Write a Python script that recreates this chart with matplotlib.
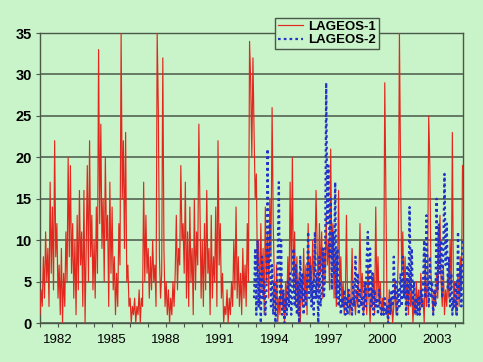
import numpy as np
import matplotlib
matplotlib.use("Agg")
import matplotlib.pyplot as plt

# ---------------- data ----------------
samples_per_year = 16
l1_start = 1981.0
lageos1 = [
    # 1981
    1, 4, 2, 8, 3, 11, 5, 9, 2, 17, 6, 14, 4, 22, 8, 12,
    # 1982
    3, 7, 1, 9, 0, 6, 2, 11, 5, 20, 8, 19, 6, 12, 3, 10,
    # 1983
    1, 13, 4, 16, 7, 11, 2, 16, 0, 9, 19, 5, 22, 8, 13, 4,
    # 1984
    10, 3, 14, 6, 33, 12, 24, 9, 15, 5, 20, 10, 13, 2, 17, 6,
    # 1985
    14, 4, 8, 1, 6, 2, 12, 7, 35, 15, 22, 9, 23, 5, 7, 2,
    # 1986
    3, 0, 2, 1, 3, 0, 2, 1, 4, 0, 3, 2, 17, 5, 13, 6,
    # 1987
    9, 3, 8, 4, 10, 5, 7, 2, 35, 26, 8, 3, 6, 32, 9, 2,
    # 1988
    5, 1, 4, 0, 3, 1, 5, 2, 6, 13, 4, 9, 7, 19, 10, 12,
    # 1989
    6, 17, 3, 11, 2, 14, 5, 9, 1, 15, 4, 11, 7, 24, 13, 3,
    # 1990
    10, 2, 12, 4, 16, 6, 9, 1, 13, 3, 8, 5, 14, 2, 22, 7,
    # 1991
    12, 3, 6, 0, 2, 1, 4, 0, 3, 1, 5, 2, 10, 4, 14, 3,
    # 1992
    8, 2, 6, 1, 9, 3, 7, 2, 12, 5, 34, 29, 20, 32, 23, 15,
    # 1993
    18, 6, 10, 2, 12, 4, 9, 1, 14, 5, 11, 3, 15, 8, 26, 12,
    # 1994
    5, 1, 7, 0, 3, 1, 6, 2, 4, 0, 5, 2, 8, 3, 17, 6,
    # 1995
    20, 4, 11, 2, 8, 1, 6, 0, 5, 2, 9, 3, 7, 1, 12, 4,
    # 1996
    8, 3, 10, 5, 7, 16, 9, 4, 12, 6, 11, 3, 9, 5, 13, 7,
    # 1997
    10, 4, 21, 8, 12, 3, 9, 2, 6, 16, 4, 8, 2, 5, 1, 3,
    # 1998
    13, 2, 4, 1, 3, 9, 2, 3, 1, 4, 2, 5, 12, 3, 6, 1,
    # 1999
    2, 5, 1, 7, 3, 0, 4, 2, 6, 1, 14, 3, 8, 2, 5, 1,
    # 2000
    3, 1, 29, 16, 2, 0, 4, 1, 3, 0, 2, 5, 1, 3, 8, 35,
    # 2001
    19, 6, 11, 3, 8, 2, 5, 1, 6, 2, 4, 0, 3, 1, 5, 2,
    # 2002
    4, 1, 6, 2, 3, 0, 8, 2, 5, 25, 19, 6, 3, 1, 4, 2,
    # 2003
    6, 3, 9, 13, 5, 2, 7, 1, 4, 2, 6, 3, 10, 4, 23, 2,
    # 2004
    5, 1, 3, 6, 2, 8, 4, 19,
]

l2_start = 1992.875
lageos2 = [
    # end of 1992
    3, 9,
    # 1993
    1, 10, 2, 6, 0, 8, 3, 5, 1, 4, 21, 6, 12, 2, 7, 1,
    # 1994
    5, 0, 3, 8, 17, 2, 10, 1, 4, 0, 3, 1, 5, 2, 6, 1,
    # 1995
    4, 9, 2, 7, 1, 5, 0, 8, 3, 6, 1, 4, 2, 5, 11, 3,
    # 1996
    7, 2, 5, 1, 11, 3, 6, 0, 8, 2, 4, 9, 3, 6, 29, 12,
    # 1997
    19, 8, 15, 4, 11, 6, 17, 3, 9, 2, 5, 1, 3, 2, 4, 1,
    # 1998
    3, 1, 4, 2, 3, 1, 5, 2, 8, 3, 6, 1, 4, 2, 3, 1,
    # 1999
    5, 2, 8, 11, 3, 9, 2, 6, 1, 4, 2, 3, 1, 4, 2, 1,
    # 2000
    2, 1, 3, 1, 2, 0, 3, 1, 4, 2, 8, 3, 5, 1, 4, 2,
    # 2001
    6, 2, 8, 3, 5, 1, 7, 2, 14, 4, 9, 2, 5, 1, 3, 1,
    # 2002
    3, 1, 4, 2, 5, 10, 3, 13, 6, 2, 8, 3, 5, 1, 4, 2,
    # 2003
    15, 4, 12, 6, 10, 3, 9, 18, 7, 12, 4, 8, 2, 6, 1, 3,
    # 2004
    2, 5, 1, 11, 3, 7, 2, 10,
]

series_names = ["LAGEOS-1", "LAGEOS-2"]
y_ticks = [0, 5, 10, 15, 20, 25, 30, 35]
x_tick_labels = [1982, 1985, 1988, 1991, 1994, 1997, 2000, 2003]
x_minor_years = list(range(1981, 2005))

# ---------------- drawing ----------------
t1 = l1_start + np.arange(len(lageos1)) / samples_per_year
t2 = l2_start + np.arange(len(lageos2)) / samples_per_year

bg = "#c9f3c9"
gridc = "#4a584a"

fig = plt.figure(figsize=(4.83, 3.62), dpi=100, facecolor=bg)
ax = fig.add_axes([0.0828, 0.1077, 0.876, 0.801])
ax.set_facecolor(bg)

ax.plot(t1, lageos1, color="#e2281e", lw=0.85, label=series_names[0], zorder=3)
ax.plot(t2, lageos2, color="#2233c8", lw=1.6, ls=(0, (1.2, 1.4)),
        label=series_names[1], zorder=4)

ax.set_xlim(1981.0, 2004.47)
ax.set_ylim(0, 35)
ax.set_yticks(y_ticks)
ax.set_yticklabels([str(v) for v in y_ticks], fontsize=10.5, fontweight="bold",
                   family=["Liberation Sans", "DejaVu Sans"])
ax.set_xticks(x_tick_labels)
ax.set_xticklabels([str(v) for v in x_tick_labels], fontsize=9.5,
                   family=["Liberation Sans", "DejaVu Sans"])
ax.set_xticks(x_minor_years, minor=True)
ax.tick_params(axis="x", which="both", direction="out", length=3, color=gridc,
               width=0.8, pad=5)
ax.tick_params(axis="y", direction="out", length=3, color=gridc, width=0.8, pad=3)
ax.yaxis.grid(True, color=gridc, lw=1.1)
ax.set_axisbelow(True)
for s in ax.spines.values():
    s.set_color(gridc)
    s.set_linewidth(1.0)

leg = ax.legend(loc="upper left", bbox_to_anchor=(0.556, 1.052), borderaxespad=0,
                frameon=True, fancybox=False, facecolor=bg, edgecolor=gridc,
                framealpha=1, handlelength=1.9, handletextpad=0.4, borderpad=0.2,
                labelspacing=0.1,
                prop={"family": ["Liberation Sans", "DejaVu Sans"],
                      "weight": "bold", "size": 9.5})
leg.get_frame().set_linewidth(1.0)
leg.set_zorder(10)

fig.savefig("out.png", dpi=100, facecolor=bg)
